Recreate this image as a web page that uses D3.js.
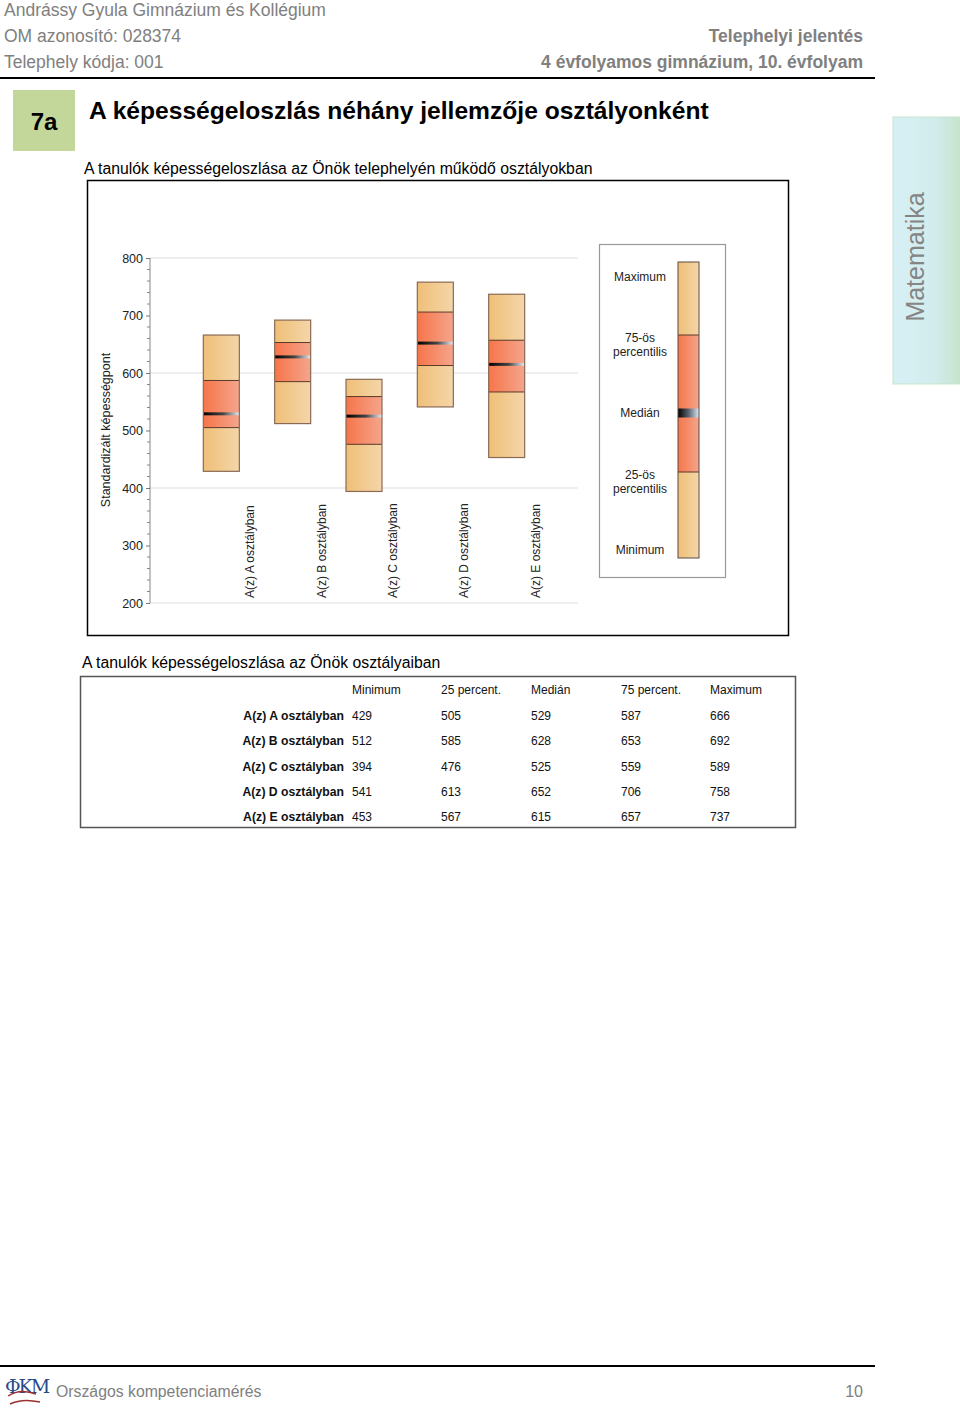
<!DOCTYPE html>
<html><head><meta charset="utf-8">
<script src="https://cdn.jsdelivr.net/npm/d3@7"></script>
<style>
body{margin:0;background:#fff;}
svg{display:block;font-family:"Liberation Sans",Arial,sans-serif;}
</style></head>
<body>
<svg id="page" width="960" height="1409"></svg>
<script>
// ---------- data ----------
const classes = ["A(z) A osztályban","A(z) B osztályban","A(z) C osztályban","A(z) D osztályban","A(z) E osztályban"];
const minimum = [429, 512, 394, 541, 453];
const p25     = [505, 585, 476, 613, 567];
const median  = [529, 628, 525, 652, 615];
const p75     = [587, 653, 559, 706, 657];
const maximum = [666, 692, 589, 758, 737];
const yTicks = [200, 300, 400, 500, 600, 700, 800];
const yGrid = [200, 400, 600, 800];
const tableHeaders = ["Minimum","25 percent.","Medián","75 percent.","Maximum"];
const legendLabels = [["Minimum"],["25-ös","percentilis"],["Medián"],["75-ös","percentilis"],["Maximum"]];
const legendLevels = [0, 86, 145, 223, 296]; // schematic legend bar levels

const svg = d3.select("#page");
const defs = svg.append("defs");
function lg(id, stops, x2="100%", y2="0%"){
  const g = defs.append("linearGradient").attr("id",id).attr("x1","0%").attr("y1","0%").attr("x2",x2).attr("y2",y2);
  stops.forEach(s=>g.append("stop").attr("offset",s[0]).attr("stop-color",s[1]));
}
lg("outer",[["0%","#efbf78"],["100%","#f4d6a9"]]);
lg("inner",[["0%","#f6754a"],["100%","#f4a58c"]]);
lg("med",[["0%","#000"],["55%","#444"],["100%","#e8eef5"]]);
lg("tab",[["0%","#d7f0f6"],["60%","#d2ecec"],["100%","#c4e3c8"]]);

// ---------- header ----------
const gray = "#808080";
svg.append("text").attr("x",4).attr("y",16).attr("font-size",17.5).attr("fill",gray).text("Andrássy Gyula Gimnázium és Kollégium");
svg.append("text").attr("x",4).attr("y",42).attr("font-size",17.5).attr("fill",gray).text("OM azonosító: 028374");
svg.append("text").attr("x",4).attr("y",68).attr("font-size",17.5).attr("fill",gray).text("Telephely kódja: 001");
svg.append("text").attr("x",863).attr("y",42).attr("font-size",17.5).attr("font-weight","bold").attr("text-anchor","end").attr("fill",gray).text("Telephelyi jelentés");
svg.append("text").attr("x",863).attr("y",68).attr("font-size",17.5).attr("font-weight","bold").attr("text-anchor","end").attr("fill",gray).text("4 évfolyamos gimnázium, 10. évfolyam");
svg.append("line").attr("x1",0).attr("x2",875).attr("y1",78).attr("y2",78).attr("stroke","#000").attr("stroke-width",2.2);

svg.append("rect").attr("x",13).attr("y",90).attr("width",62).attr("height",61).attr("fill","#c4d79b");
svg.append("text").attr("x",44).attr("y",130).attr("font-size",24).attr("font-weight","bold").attr("text-anchor","middle").text("7a");
svg.append("text").attr("x",89).attr("y",119).attr("font-size",24.6).attr("font-weight","bold").text("A képességeloszlás néhány jellemzője osztályonként");

// Matematika tab
svg.append("rect").attr("x",893).attr("y",117).attr("width",70).attr("height",267).attr("fill","url(#tab)").attr("stroke","#c9e3cc").attr("stroke-width",1);
svg.append("text").attr("transform","translate(924,257) rotate(-90)").attr("text-anchor","middle").attr("font-size",25).attr("fill","#858585").text("Matematika");

// ---------- chart ----------
svg.append("text").attr("x",84).attr("y",174).attr("font-size",15.8).text("A tanulók képességeloszlása az Önök telephelyén működő osztályokban");
svg.append("rect").attr("x",87.5).attr("y",180.5).attr("width",701).attr("height",455).attr("fill","#fff").attr("stroke","#000").attr("stroke-width",1.5);

const y = d3.scaleLinear().domain([200,800]).range([603,258]);
const x = d3.scalePoint().domain(classes).range([150,578]).padding(1);
const boxW = 36;

// grid
svg.append("g").selectAll("line").data(yGrid).join("line")
  .attr("x1",150).attr("x2",578).attr("y1",d=>y(d)).attr("y2",d=>y(d)).attr("stroke","#d9dde2").attr("stroke-width",1);

// axis
const yAxis = d3.axisLeft(y).tickValues(yTicks).tickSize(4).tickPadding(3);
const ax = svg.append("g").attr("transform","translate(150,0)").call(yAxis);
ax.select(".domain").attr("stroke","#888").attr("d","M0,"+y(200)+"V"+y(800));
ax.selectAll(".tick line").attr("stroke","#777");
ax.selectAll(".tick text").attr("font-size",12.5).attr("fill","#222").attr("font-family","Liberation Sans, Arial");
const minor = d3.range(200,801,20).filter(v=>v%100!==0);
svg.append("g").selectAll("line").data(minor).join("line")
  .attr("x1",147).attr("x2",150).attr("y1",d=>y(d)).attr("y2",d=>y(d)).attr("stroke","#888");
svg.append("text").attr("transform","translate(110,430) rotate(-90)").attr("text-anchor","middle").attr("font-size",12.5).attr("fill","#222").text("Standardizált képességpont");

// boxes
const rows = classes.map((c,i)=>({c,min:minimum[i],q1:p25[i],med:median[i],q3:p75[i],max:maximum[i]}));
const bg = svg.append("g");
rows.forEach(r=>{
  const cx = x(r.c), x0 = cx-boxW/2;
  const g = bg.append("g");
  g.append("rect").attr("x",x0).attr("width",boxW).attr("y",y(r.max)).attr("height",y(r.min)-y(r.max)).attr("fill","url(#outer)");
  g.append("rect").attr("x",x0).attr("width",boxW).attr("y",y(r.q3)).attr("height",y(r.q1)-y(r.q3)).attr("fill","url(#inner)");
  [r.q1,r.q3].forEach(v=>g.append("line").attr("x1",x0).attr("x2",x0+boxW).attr("y1",y(v)).attr("y2",y(v)).attr("stroke","#5a3a2a").attr("stroke-width",1));
  g.append("rect").attr("x",x0).attr("width",boxW).attr("y",y(r.med)-1.5).attr("height",3).attr("fill","url(#med)");
  g.append("rect").attr("x",x0).attr("width",boxW).attr("y",y(r.max)).attr("height",y(r.min)-y(r.max)).attr("fill","none").attr("stroke","#8a6a55").attr("stroke-width",1.2);
  g.append("text").attr("transform",`translate(${cx+33},598) rotate(-90)`).attr("font-size",12).attr("fill","#222").text(r.c);
});

// legend
svg.append("rect").attr("x",599.5).attr("y",244.5).attr("width",126).attr("height",333).attr("fill","#fff").attr("stroke","#999").attr("stroke-width",1.2);
const ly = d3.scaleLinear().domain([0,296]).range([558,262]);
const lx0 = 678, lw = 21;
svg.append("rect").attr("x",lx0).attr("width",lw).attr("y",ly(legendLevels[4])).attr("height",ly(legendLevels[0])-ly(legendLevels[4])).attr("fill","url(#outer)");
svg.append("rect").attr("x",lx0).attr("width",lw).attr("y",ly(legendLevels[3])).attr("height",ly(legendLevels[1])-ly(legendLevels[3])).attr("fill","url(#inner)");
[legendLevels[1],legendLevels[3]].forEach(v=>svg.append("line").attr("x1",lx0).attr("x2",lx0+lw).attr("y1",ly(v)).attr("y2",ly(v)).attr("stroke","#5a3a2a"));
lg("lmed",[["0%","#000"],["50%","#5a6370"],["100%","#dbe8f5"]]);
svg.append("rect").attr("x",lx0).attr("width",lw).attr("y",ly(legendLevels[2])-4.5).attr("height",9).attr("fill","url(#lmed)");
svg.append("rect").attr("x",lx0).attr("width",lw).attr("y",ly(legendLevels[4])).attr("height",ly(legendLevels[0])-ly(legendLevels[4])).attr("fill","none").attr("stroke","#5a4a40").attr("stroke-width",1);
const labelY = [550, 475, 413, 338, 277];
legendLabels.forEach((lines,i)=>{
  const t = svg.append("text").attr("x",640).attr("y",labelY[i]+ (lines.length>1?0:4)).attr("text-anchor","middle").attr("font-size",12).attr("fill","#222");
  lines.forEach((s,j)=>t.append("tspan").attr("x",640).attr("dy",j?14:(lines.length>1?4:0)).text(s));
});

// ---------- table ----------
svg.append("text").attr("x",82).attr("y",668).attr("font-size",15.8).text("A tanulók képességeloszlása az Önök osztályaiban");
svg.append("rect").attr("x",80.5).attr("y",676.5).attr("width",715).attr("height",151).attr("fill","none").attr("stroke","#555").attr("stroke-width",1.5);
const colX = [352, 441, 531, 621, 710];
tableHeaders.forEach((h,i)=>svg.append("text").attr("x",colX[i]).attr("y",694).attr("font-size",12).attr("fill","#111").text(h));
const series = [minimum,p25,median,p75,maximum];
classes.forEach((c,r)=>{
  const yy = 720 + r*25.3;
  svg.append("text").attr("x",344).attr("y",yy).attr("text-anchor","end").attr("font-size",12.2).attr("font-weight","bold").attr("fill","#111").text(c);
  series.forEach((s,k)=>svg.append("text").attr("x",colX[k]).attr("y",yy).attr("font-size",12).attr("fill","#111").text(s[r]));
});

// ---------- footer ----------
svg.append("line").attr("x1",0).attr("x2",875).attr("y1",1366).attr("y2",1366).attr("stroke","#000").attr("stroke-width",2.2);
const logo = svg.append("g");
logo.append("text").attr("x",5).attr("y",1393).attr("font-family","DejaVu Serif, serif").attr("font-size",19).attr("fill","#2b4a8a").attr("letter-spacing",-2).text("ΦKM");
logo.append("path").attr("d","M8,1396 Q20,1388 36,1394 M10,1404 Q22,1398 40,1402").attr("stroke","#a03030").attr("stroke-width",1.5).attr("fill","none");
svg.append("text").attr("x",56).attr("y",1397).attr("font-size",15.8).attr("fill",gray).text("Országos kompetenciamérés");
svg.append("text").attr("x",863).attr("y",1397).attr("font-size",16).attr("text-anchor","end").attr("fill",gray).text("10");
</script>
</body></html>
